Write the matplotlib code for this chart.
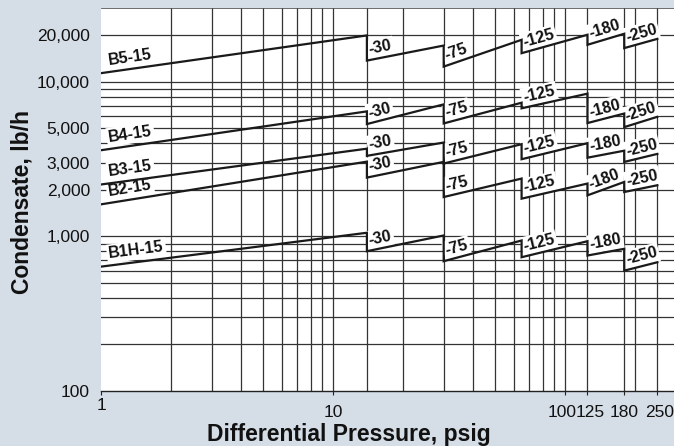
import numpy as np
import matplotlib
matplotlib.use('Agg')
import matplotlib.pyplot as plt
import matplotlib.transforms as mtransforms
from matplotlib.ticker import NullLocator

plt.rcParams['font.family'] = ['Liberation Sans', 'DejaVu Sans']

# pressure breakpoints (psig) where each trap size takes over
breaks = [1, 14, 30, 65, 125, 180, 250]
seg_names = ['-15', '-30', '-75', '-125', '-180', '-250']

series_names = ['B5', 'B4', 'B3', 'B2', 'B1H']
# condensate (lb/h) at the start and end of each segment
b5_start = [11400, 13750, 12570, 15350, 17400, 16560]
b5_end = [20000, 17200, 18740, 20200, 20500, 19000]
b4_start = [3615, 5340, 5390, 6750, 5420, 5100]
b4_end = [6450, 7160, 7340, 8400, 6245, 5950]
b3_start = [2170, 3325, 2965, 3162, 3235, 3037]
b3_end = [3700, 4055, 3957, 4015, 3590, 3422]
b2_start = [1614, 2405, 1800, 1757, 1846, 1940]
b2_end = [3050, 3040, 2370, 2200, 2253, 2145]
b1h_start = [638, 803, 692, 734, 753, 601]
b1h_end = [1057, 1015, 942, 932, 832, 681]

starts = [b5_start, b4_start, b3_start, b2_start, b1h_start]
ends = [b5_end, b4_end, b3_end, b2_end, b1h_end]

x_grid = [2, 3, 4, 5, 6, 7, 8, 9, 10, 14, 20, 30, 40, 50, 60, 70, 80, 90,
          100, 125, 180, 200, 250]
y_grid = [200, 300, 400, 500, 600, 700, 800, 900, 1000,
          2000, 3000, 4000, 5000, 6000, 7000, 8000, 9000, 10000, 20000]

x_ticks = [1, 10, 100, 125, 180, 250]
x_ticklabels = ['1', '10', '100', '125', '180', '250']
y_ticks = [100, 1000, 2000, 3000, 5000, 10000, 20000]
y_ticklabels = ['100', '1,000', '2,000', '3,000', '5,000', '10,000', '20,000']

bg = '#d5dde6'
grid_c = '#333333'

fig = plt.figure(figsize=(6.74, 4.46), dpi=100, facecolor=bg)
ax = fig.add_axes([101 / 674, 55 / 446, 573 / 674, 383 / 446])
ax.set_facecolor('white')
ax.set_xscale('log')
ax.set_yscale('log')
ax.set_xlim(1, 295)
ax.set_ylim(100, 30100)

for gx in x_grid:
    ax.axvline(gx, color=grid_c, lw=0.9, zorder=1)
for gy in y_grid:
    ax.axhline(gy, color=grid_c, lw=0.9, zorder=1)

for s in ['left', 'right']:
    ax.spines[s].set_visible(False)
ax.spines['bottom'].set_color('#222222')
ax.spines['bottom'].set_linewidth(1.0)
ax.spines['top'].set_color('#555555')
ax.spines['top'].set_linewidth(0.6)

ax.set_xticks(x_ticks)
ax.set_xticklabels(x_ticklabels)
ax.set_yticks(y_ticks)
ax.set_yticklabels(y_ticklabels)
ax.xaxis.set_minor_locator(NullLocator())
ax.yaxis.set_minor_locator(NullLocator())
ax.tick_params(axis='x', length=3, width=0.8, color='#222222', pad=7,
               labelsize=12.5, labelcolor='#111111')
ax.tick_params(axis='y', length=0, pad=8, labelsize=12.5, labelcolor='#111111')

# nudge a few x labels like the original
shifts = {0: (0, 7), 2: (-3, 0), 3: (3, 0), 5: (2, 0)}
for i, lab in enumerate(ax.get_xticklabels()):
    if i in shifts:
        dx, dy = shifts[i]
        off = mtransforms.ScaledTranslation(dx / 100, dy / 100, fig.dpi_scale_trans)
        lab.set_transform(lab.get_transform() + off)


def log_interp(x, x0, x1, y0, y1):
    t = (np.log10(x) - np.log10(x0)) / (np.log10(x1) - np.log10(x0))
    return 10 ** (np.log10(y0) + t * (np.log10(y1) - np.log10(y0)))


def seg_angle(x0, y0, x1, y1):
    p0 = ax.transData.transform((x0, y0))
    p1 = ax.transData.transform((x1, y1))
    return np.degrees(np.arctan2(p1[1] - p0[1], p1[0] - p0[0]))


box = dict(boxstyle='square,pad=0.12', fc='white', ec='none')

for name, st, en in zip(series_names, starts, ends):
    xs, ys = [], []
    for i in range(len(seg_names)):
        xs += [breaks[i], breaks[i + 1]]
        ys += [st[i], en[i]]
    ax.plot(xs, ys, color='#1a1a1a', lw=1.6, zorder=3, solid_joinstyle='miter')

    for i in range(len(seg_names)):
        x0, x1 = breaks[i], breaks[i + 1]
        ang = seg_angle(x0, st[i], x1, en[i])
        if i == 0:
            lx = 1.09
            txt = name + seg_names[0]
            off = (0, 3)
        else:
            lx = x0
            txt = seg_names[i]
            off = (2.5, 2.5)
        ly = log_interp(lx, x0, x1, st[i], en[i])
        ax.annotate(txt, xy=(lx, ly), xytext=off, textcoords='offset points',
                    rotation=ang, rotation_mode='anchor', ha='left', va='bottom',
                    fontsize=11.5, fontweight='bold', color='#111111',
                    bbox=box, zorder=2)

fig.text(349 / 674, 1 - 435 / 446, 'Differential Pressure, psig', ha='center',
         va='center', fontsize=16.5, fontweight='bold', color='#111111')
fig.text(22 / 674, 1 - 202 / 446, 'Condensate, lb/h', ha='center', va='center',
         rotation=90, fontsize=16.5, fontweight='bold', color='#111111')

fig.savefig('out.png', dpi=100, facecolor=bg)
